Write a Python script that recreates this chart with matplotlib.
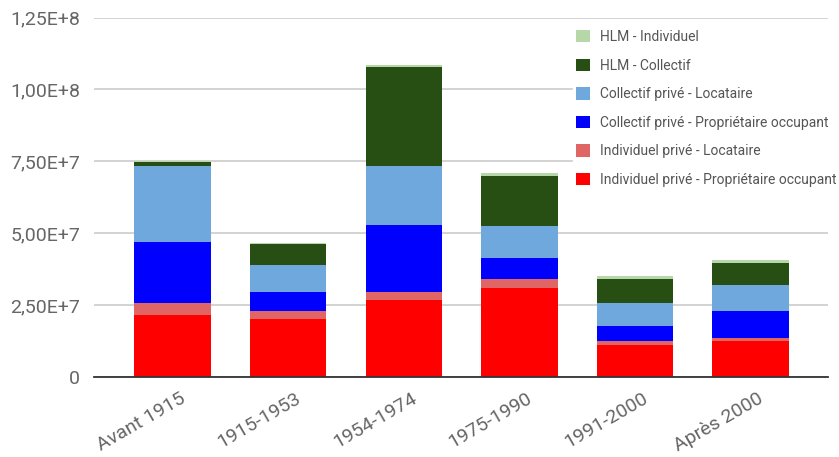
import numpy as np
import matplotlib.pyplot as plt
import matplotlib.transforms as mtransforms

plt.rcParams['font.family'] = ['Roboto', 'DejaVu Sans']

# data (values in millions)
periodes = ['Avant 1915', '1915-1953', '1954-1974', '1975-1990', '1991-2000', 'Après 2000']
ind_prop = [21.5, 20.1, 26.8, 30.8, 10.9, 12.3]
ind_loc = [4.0, 2.7, 2.8, 3.3, 1.4, 1.3]
coll_prop = [21.3, 6.8, 23.1, 7.3, 5.3, 9.4]
coll_loc = [26.4, 9.2, 20.5, 11.2, 7.9, 9.1]
hlm_coll = [1.5, 7.4, 34.5, 17.2, 8.4, 7.6]
hlm_ind = [0.5, 0.5, 0.7, 1.2, 1.3, 1.1]

series = [
    ('Individuel privé - Propriétaire occupant', ind_prop, '#ff0000'),
    ('Individuel privé - Locataire', ind_loc, '#e06666'),
    ('Collectif privé - Propriétaire occupant', coll_prop, '#0000ff'),
    ('Collectif privé - Locataire', coll_loc, '#6fa8dc'),
    ('HLM - Collectif', hlm_coll, '#274e13'),
    ('HLM - Individuel', hlm_ind, '#b6d7a8'),
]

y_ticks = [0, 2.5e7, 5e7, 7.5e7, 1e8, 1.25e8]
y_labels = ['0', '2,50E+7', '5,00E+7', '7,50E+7', '1,00E+8', '1,25E+8']

fig = plt.figure(figsize=(8.39, 4.57), dpi=100)
ax = fig.add_axes([0.112, 0.1757, 0.875, 0.7856])

x = np.arange(len(periodes))
bottom = np.zeros(len(periodes))
handles = []
for name, vals, col in series:
    v = np.array(vals) * 1e6
    b = ax.bar(x, v, 0.66, bottom=bottom, color=col, label=name, zorder=3)
    handles.append(b)
    bottom += v

ax.set_xlim(-0.68, 5.67)
ax.set_ylim(0, 1.25e8)
ax.set_yticks(y_ticks)
ax.set_yticklabels(y_labels)
ax.set_xticks(x)
ax.set_xticklabels(periodes, rotation=30, ha='right', rotation_mode='anchor')
ax.tick_params(axis='both', length=0, labelsize=14, colors='#666666')
ax.tick_params(axis='y', pad=10)
ax.tick_params(axis='x', pad=9)
# shift the x labels a bit to the right
offset = mtransforms.ScaledTranslation(7 / 100, 0, fig.dpi_scale_trans)
for lbl in ax.get_xticklabels():
    lbl.set_transform(lbl.get_transform() + offset)
ax.grid(axis='y', color='#cccccc', linewidth=1.2, zorder=0)
for s in ['top', 'right', 'left']:
    ax.spines[s].set_visible(False)
ax.spines['bottom'].set_color('#333333')
ax.spines['bottom'].set_linewidth(1.3)
ax.spines['bottom'].set_zorder(4)

leg = ax.legend(handles[::-1], [s[0] for s in series][::-1],
                loc='upper left', bbox_to_anchor=(0.643, 0.993),
                frameon=True, fancybox=False, edgecolor='white', framealpha=1,
                fontsize=10, handlelength=1.0, handleheight=1.0,
                labelspacing=1.05, handletextpad=0.75, borderpad=0.2,
                labelcolor='#555555')
leg.set_zorder(5)

plt.savefig('out.png', dpi=100)
